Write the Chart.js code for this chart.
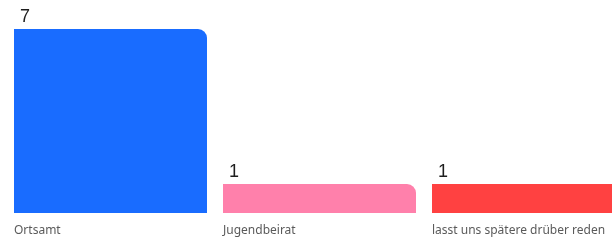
<!DOCTYPE html>
<html>
<head>
<meta charset="utf-8">
<script src="https://cdn.jsdelivr.net/npm/chart.js@4"></script>
<style>
  html, body { margin: 0; padding: 0; background: #fff; overflow: hidden; }
  #wrap { width: 640px; height: 241px; }
</style>
</head>
<body>
<div id="wrap"><canvas id="voteChart"></canvas></div>
<script>
// 데이터
const voteLabels = ['Ortsamt', 'Jugendbeirat', 'lasst uns spätere drüber reden'];
const voteCounts = [7, 1, 1];
const voteColors = ['#196cff', '#ff80ab', '#ff4141'];

// 축 범위 (막대 바닥이 0보다 살짝 아래)
const axisFloor = -0.12;
const axisMax = 7;

// 막대 위 숫자 + 아래 카테고리 라벨
const barLabelPlugin = {
  id: 'barLabels',
  afterDatasetsDraw(chart) {
    const ctx = chart.ctx;
    const meta = chart.getDatasetMeta(0);
    ctx.save();
    ctx.textAlign = 'left';
    ctx.textBaseline = 'alphabetic';
    meta.data.forEach((bar, i) => {
      const left = bar.x - bar.width / 2;
      ctx.fillStyle = '#1e1e1e';
      ctx.font = '18px "Liberation Sans", Arial, sans-serif';
      ctx.fillText(String(voteCounts[i]), left + 6, bar.y - 7);
      ctx.fillStyle = '#5a5a5a';
      ctx.font = '12px "Noto Sans", sans-serif';
      ctx.fillText(voteLabels[i], left, bar.base + 21);
    });
    ctx.restore();
  }
};

new Chart(document.getElementById('voteChart'), {
  type: 'bar',
  data: {
    labels: voteLabels,
    datasets: [{
      data: voteCounts,
      backgroundColor: voteColors,
      base: axisFloor,
      borderRadius: { topLeft: 0, topRight: 9, bottomLeft: 0, bottomRight: 0 },
      borderSkipped: false,
      categoryPercentage: 1,
      barPercentage: 193 / 209
    }]
  },
  options: {
    responsive: true,
    maintainAspectRatio: false,
    animation: false,
    events: [],
    layout: { padding: { left: 6, right: 7, top: 29, bottom: 28 } },
    plugins: { legend: { display: false }, tooltip: { enabled: false } },
    scales: {
      x: { display: false },
      y: { display: false, min: axisFloor, max: axisMax }
    }
  },
  plugins: [barLabelPlugin]
});
</script>
</body>
</html>
